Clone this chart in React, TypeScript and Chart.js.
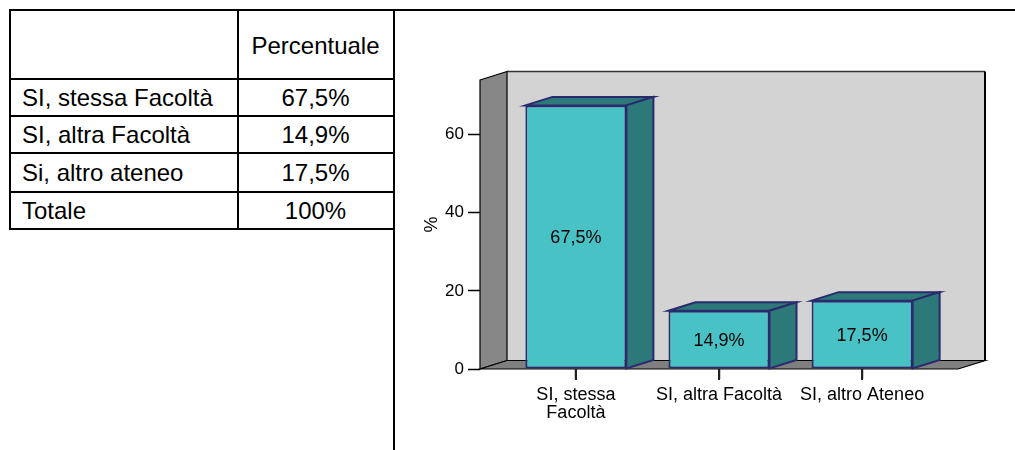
import React, { useEffect, useRef } from "react";
import { Chart, registerables } from "chart.js";

Chart.register(...registerables);

// ---- data ----
const CATEGORIES: (string | string[])[] = [["SI, stessa", "Facoltà"], "SI, altra Facoltà", "SI, altro Ateneo"];
const VALUES = [67.5, 14.9, 17.5];
const VALUE_LABELS = ["67,5%", "14,9%", "17,5%"];
const Y_MIN = 0;
const Y_MAX = 74;
const Y_STEP = 20;
const AXIS_TITLE = "%";

const TABLE_HEADER = "Percentuale";
const TABLE_ROWS = ["SI, stessa Facoltà", "SI, altra Facoltà", "Si, altro ateneo", "Totale"];
const TABLE_VALUES = ["67,5%", "14,9%", "17,5%", "100%"];

// ---- style ----
const FONT = '"Liberation Sans", Arial, Helvetica, sans-serif';
const FRONT = "#49C2C6";
const SIDE = "#2D7878";
const EDGE = "#2A2A6E";
const BACK_WALL = "#D3D3D3";
const SIDE_WALL = "#878787";
const FLOOR = "#7F7F7F";
const DX = 27;
const DY = -8.5;
const X_TICK_LEN = 10;

function poly(ctx: CanvasRenderingContext2D, pts: number[][], fill: string, stroke: string, lw: number) {
  ctx.beginPath();
  ctx.moveTo(pts[0][0], pts[0][1]);
  for (let i = 1; i < pts.length; i++) ctx.lineTo(pts[i][0], pts[i][1]);
  ctx.closePath();
  ctx.fillStyle = fill;
  ctx.fill();
  ctx.lineWidth = lw;
  ctx.strokeStyle = stroke;
  ctx.lineJoin = "miter";
  ctx.stroke();
}

const threeD = {
  id: "threeD",
  beforeDraw(chart: any) {
    const { ctx, chartArea: a } = chart;
    const L = a.left, R = a.right, T = a.top, B = a.bottom;
    ctx.save();
    ctx.fillStyle = BACK_WALL;
    ctx.fillRect(L + DX, T + DY, R - L, B - T);
    ctx.strokeStyle = "#333";
    ctx.lineWidth = 1.5;
    ctx.beginPath();
    ctx.moveTo(L + DX, T + DY);
    ctx.lineTo(R + DX, T + DY);
    ctx.stroke();
    ctx.strokeStyle = "#000";
    ctx.lineWidth = 2;
    ctx.beginPath();
    ctx.moveTo(R + DX, T + DY);
    ctx.lineTo(R + DX, B + DY);
    ctx.stroke();
    poly(ctx, [[L, T], [L + DX, T + DY], [L + DX, B + DY], [L, B]], SIDE_WALL, "#000", 1.2);
    poly(ctx, [[L, B], [L + DX, B + DY], [R + DX, B + DY], [R, B]], FLOOR, "#000", 1.2);
    ctx.restore();
  },
  afterDatasetsDraw(chart: any) {
    const { ctx } = chart;
    const meta = chart.getDatasetMeta(0);
    ctx.save();
    meta.data.forEach((bar: any, i: number) => {
      const { x, y, base, width } = bar.getProps(["x", "y", "base", "width"], true);
      const l = x - width / 2;
      const r = x + width / 2;
      poly(ctx, [[l, y], [l + DX, y + DY], [r + DX, y + DY], [r, y]], SIDE, EDGE, 2);
      poly(ctx, [[r, y], [r + DX, y + DY], [r + DX, base + DY], [r, base]], SIDE, EDGE, 2);
      ctx.fillStyle = "#000";
      ctx.font = `18px ${FONT}`;
      ctx.textAlign = "center";
      ctx.textBaseline = "middle";
      ctx.fillText(VALUE_LABELS[i], x, (y + base) / 2 + 1.5);
    });
    ctx.restore();
  },
  afterDraw(chart: any) {
    // category tick marks below the floor
    const { ctx } = chart;
    const xs = chart.scales.x;
    const B = chart.chartArea.bottom;
    ctx.save();
    ctx.fillStyle = "#222";
    for (let i = 0; i < xs.ticks.length; i++) {
      const px = Math.round(xs.getPixelForTick(i));
      ctx.fillRect(px - 1, B, 2, X_TICK_LEN + 1);
    }
    ctx.restore();
  },
};

function ChartBox() {
  const ref = useRef<HTMLCanvasElement | null>(null);
  useEffect(() => {
    if (!ref.current) return;
    const chart = new Chart(ref.current, {
      type: "bar",
      data: {
        datasets: [
          {
            data: VALUES.map((v, i) => ({ x: i, y: v })),
            backgroundColor: FRONT,
            borderColor: EDGE,
            borderWidth: 2,
            borderSkipped: false,
            barPercentage: 0.706,
            categoryPercentage: 1,
          } as any,
        ],
      },
      options: {
        animation: false,
        responsive: false,
        maintainAspectRatio: false,
        layout: { padding: { top: 68, right: 57, left: 0, bottom: 0 } },
        plugins: { legend: { display: false }, tooltip: { enabled: false } },
        scales: {
          x: {
            type: "linear",
            offset: false,
            min: -0.67,
            max: 2.67,
            afterBuildTicks: (s: any) => {
              s.ticks = CATEGORIES.map((_, i) => ({ value: i }));
            },
            afterFit: (s: any) => {
              s.height = 81;
            },
            ticks: {
              callback: (v: any) => CATEGORIES[v as number],
              font: { family: FONT, size: 18, lineHeight: 1 },
              color: "#000",
              padding: 7,
              maxRotation: 0,
              autoSkip: false,
            },
            grid: { offset: false, drawOnChartArea: false, tickLength: X_TICK_LEN, tickColor: "#222", tickWidth: 1.5 },
            border: { display: false },
          },
          y: {
            min: Y_MIN,
            max: Y_MAX,
            afterFit: (s: any) => {
              s.width = 82;
            },
            ticks: {
              stepSize: Y_STEP,
              includeBounds: false,
              font: { family: FONT, size: 17 },
              color: "#000",
              padding: 4,
            },
            grid: { drawOnChartArea: false, tickLength: 12, tickColor: "#000", tickWidth: 1.5 },
            border: { display: false },
            title: {
              display: true,
              text: AXIS_TITLE,
              font: { family: FONT, size: 18 },
              color: "#000",
              padding: { top: 23, bottom: 0 },
            },
          },
        },
      },
      plugins: [threeD],
    } as any);
    return () => chart.destroy();
  }, []);
  return (
    <canvas
      ref={ref}
      width={617}
      height={438}
      style={{ position: "absolute", left: 398, top: 12, width: 617, height: 438 }}
    />
  );
}

const HLINES = [10, 79, 116, 153, 191.5, 229];
const TEXT_Y = [98, 135, 173, 211];
const TABLE_FONT = 24;

export default function App() {
  const line = (style: React.CSSProperties, key: string) => (
    <div key={key} style={{ position: "absolute", background: "#000", ...style }} />
  );
  return (
    <div
      style={{
        position: "absolute",
        left: 0,
        top: 0,
        width: 1015,
        height: 450,
        background: "#fff",
        overflow: "hidden",
        fontFamily: FONT,
        color: "#000",
      }}
    >
      {line({ left: 9, top: 9, width: 1006, height: 2 }, "top")}
      {HLINES.slice(1).map((y, i) => line({ left: 9, top: y - 1, width: 386, height: 2 }, "h" + i))}
      {line({ left: 9, top: 9, width: 2, height: 221 }, "v0")}
      {line({ left: 236.5, top: 9, width: 2, height: 221 }, "v1")}
      {line({ left: 393, top: 9, width: 2, height: 441 }, "v2")}
      <div
        style={{
          position: "absolute",
          left: 238,
          width: 155,
          top: 46 - 15,
          height: 30,
          lineHeight: "30px",
          fontSize: TABLE_FONT,
          textAlign: "center",
        }}
      >
        {TABLE_HEADER}
      </div>
      {TABLE_ROWS.map((r, i) => (
        <React.Fragment key={r}>
          <div
            style={{
              position: "absolute",
              left: 22,
              top: TEXT_Y[i] - 15,
              height: 30,
              lineHeight: "30px",
              fontSize: TABLE_FONT,
              whiteSpace: "nowrap",
            }}
          >
            {r}
          </div>
          <div
            style={{
              position: "absolute",
              left: 238,
              width: 155,
              top: TEXT_Y[i] - 15,
              height: 30,
              lineHeight: "30px",
              fontSize: TABLE_FONT,
              textAlign: "center",
            }}
          >
            {TABLE_VALUES[i]}
          </div>
        </React.Fragment>
      ))}
      <ChartBox />
    </div>
  );
}
